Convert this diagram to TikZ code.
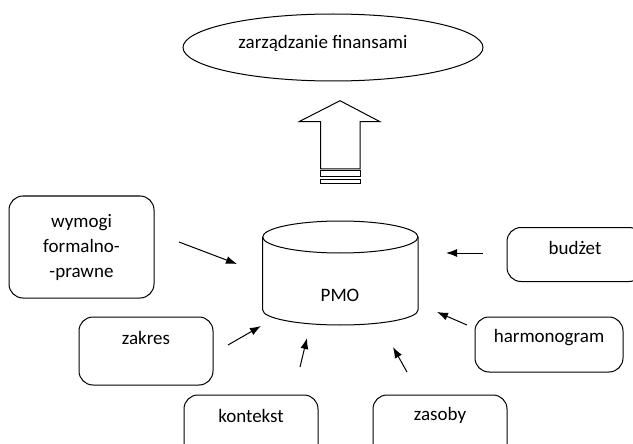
\documentclass[tikz,border=0pt]{standalone}
\usepackage{fontspec}
\setmainfont{Carlito}
\usetikzlibrary{arrows}
\usetikzlibrary{arrows.meta}
\usetikzlibrary{shapes.geometric}

\begin{document}
\begin{tikzpicture}[x=1pt,y=-1pt,line width=1pt]
\tikzstyle{every node}=[font=\fontsize{19}{25}\selectfont,inner sep=0pt]
\tikzstyle{box}=[draw,rounded corners=14pt,minimum width=134pt,minimum height=68pt]
\tikzstyle{boxtext}=[anchor=center,yshift=-21pt]
\tikzstyle{feed}=[-{Latex[length=11pt,width=8pt]}]
\clip (0,0) rectangle (633,444);
% cel
\node[draw,ellipse,minimum width=300pt,minimum height=67pt,
  label={[anchor=center,xshift=-10pt,yshift=4pt]center:zarządzanie finansami}] (fin) at (333,47.5) {};
% strzalka w gore
\draw (340,100.7) -- (380,121.7) -- (360,121.7) -- (360,169) -- (320.7,169)
  -- (320.7,121.7) -- (299,121.7) -- cycle;
\draw (320.7,171) rectangle (360,177);
\draw (320.7,180) rectangle (360,184);
% PMO
\draw (262.7,237) -- (262.7,310) arc[start angle=180,end angle=360,x radius=77.65pt,y radius=15pt] -- (418,237);
\draw (340.35,237) ellipse [x radius=77.65pt,y radius=16pt];
\node (pmo) at (340,295) {PMO};
% czynniki
\node[box,align=center,minimum width=145pt,minimum height=102pt] (wym) at (81.5,247) {wymogi\\formalno-\\-prawne};
\node[box,label={[boxtext]north:zakres}] (zak) at (146,351) {};
\node[box,label={[boxtext]north:kontekst}] (kon) at (251,429) {};
\node[box,label={[boxtext]north:zasoby}] (zas) at (440,429) {};
\node[box,minimum width=148pt,minimum height=55pt,label={[boxtext]north:harmonogram}] (har) at (549,344.5) {};
\node[box,minimum width=136pt,minimum height=54pt,label={[boxtext]north:budżet}] (bud) at (575,254.5) {};
% strzalki
\coordinate (w1) at (179,242); \coordinate (w2) at (237,264);
\coordinate (z1) at (228,345); \coordinate (z2) at (261,326);
\coordinate (k1) at (300,367); \coordinate (k2) at (307,338);
\coordinate (s1) at (407,372); \coordinate (s2) at (393,347);
\coordinate (h1) at (467,325); \coordinate (h2) at (437,312);
\coordinate (b1) at (483,253); \coordinate (b2) at (446,253);
\foreach \a/\b in {w1/w2,z1/z2,k1/k2,s1/s2,h1/h2,b1/b2}
  \draw[feed] (\a) -- (\b);
\end{tikzpicture}
\end{document}
